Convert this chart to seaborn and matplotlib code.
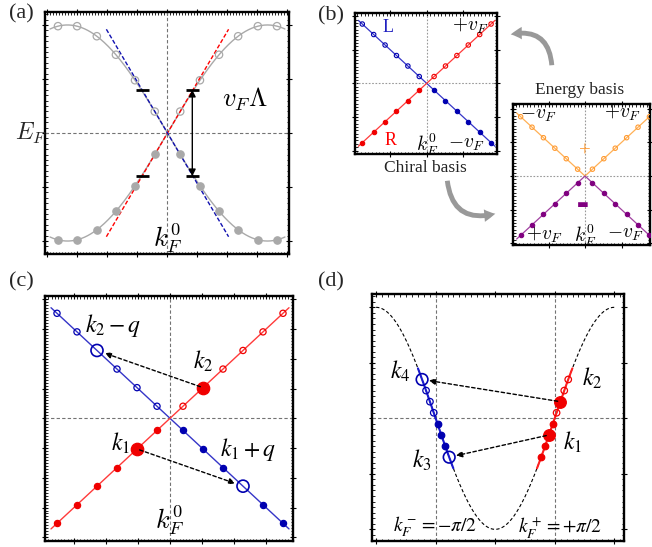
import numpy as np
import matplotlib
matplotlib.use("Agg")
import matplotlib.pyplot as plt
import seaborn as sns
from matplotlib.patches import FancyArrowPatch
from matplotlib.ticker import MultipleLocator

# ---- data ----
# (a) lattice momenta (rad) on one side of k_F^0, band E = +-sin(k)
K_A = [0.20, 0.51, 0.81, 1.11, 1.42, 1.72]
K_A_CURVE = 1.845          # extent of the gray band
K_A_LIN = 0.96             # extent of the linearised dashed lines
BAR_K = 0.39               # cutoff bars / double arrow
BAR_E = 0.40

# (b), (c) momenta (units of level spacing) on one side of k_F^0
K_LIN = [0.65, 1.65, 2.65, 3.65, 4.65, 5.65]
K_LINE = 6.0

# (c) scattered particles
C_K1, C_K2 = -1.65, 1.65
C_Q = 5.3

# (d) energy levels around each Fermi point, band E = -cos(k)
D_OPEN_BLUE = [0.25, 0.15, 0.05]
D_FILL_BLUE = [-0.05, -0.15, -0.25]
D_BIG_BLUE = [0.35, -0.35]          # k4, k3
D_OPEN_RED = [0.35, 0.25, 0.05]
D_FILL_RED = [-0.05, -0.25, -0.35]
D_BIG_RED = [0.15, -0.15]           # k2, k1
D_SEG = 0.45

W, H = 652, 547
GRAY = "#a9a9a9"
RED_L, RED_M = "#ff3a3a", "#f00000"
BLUE_L, BLUE_M = "#3535c8", "#0000b0"
ORANGE_L, ORANGE_M = "#ffb055", "#ff9a30"
PURPLE_L, PURPLE_M = "#a040a0", "#800080"

sns.set_theme(style="white")
plt.rcParams["font.family"] = ["Liberation Serif", "DejaVu Serif"]
plt.rcParams["mathtext.fontset"] = "cm"

fig = plt.figure(figsize=(W / 100, H / 100), dpi=100)


def box(x0, y0, x1, y1):
    return fig.add_axes([x0 / W, 1 - y1 / H, (x1 - x0) / W, (y1 - y0) / H])


def frame(ax, xmaj, ymaj):
    ax.xaxis.set_major_locator(MultipleLocator(xmaj))
    ax.xaxis.set_minor_locator(MultipleLocator(xmaj / 10))
    ax.yaxis.set_major_locator(MultipleLocator(ymaj))
    ax.yaxis.set_minor_locator(MultipleLocator(ymaj / 10))
    ax.tick_params(which="both", direction="in", top=True, right=True,
                   bottom=True, left=True, labelbottom=False, labelleft=False,
                   color="black")
    ax.tick_params(which="major", direction="inout", length=5, width=0.8)
    ax.tick_params(which="minor", length=1.8, width=0.6)
    for s in ax.spines.values():
        s.set_linewidth(1.7)
        s.set_color("black")


def guides(ax, xs, y=0, color="0.45", ls=(0, (3, 2))):
    for x in xs:
        ax.axvline(x, color=color, ls=ls, lw=0.8, zorder=1)
    ax.axhline(y, color=color, ls=ls, lw=0.8, zorder=1)


def line(ax, x, y, color, lw=1.0, **kw):
    sns.lineplot(x=np.asarray(x), y=np.asarray(y), ax=ax, color=color, lw=lw,
                 sort=False, estimator=None, zorder=2, **kw)


def pts(ax, x, y, color, hollow, s, lw=0.9):
    face = "none" if hollow else color
    sns.scatterplot(x=np.asarray(x, float), y=np.asarray(y, float), ax=ax,
                    color=color, facecolor=face, edgecolor=color, s=s,
                    linewidth=lw, zorder=3)


def hop(ax, src, dst, shrink=4):
    ax.annotate("", xy=dst, xytext=src,
                arrowprops=dict(arrowstyle="-|>", color="black", lw=1.0,
                                ls=(0, (2.5, 1.8)), mutation_scale=9,
                                shrinkA=2, shrinkB=shrink), zorder=4)


def mtext(ax, x, y, s, size, color="black", font="cm", **kw):
    ax.text(x, y, s, fontsize=size, color=color, ha="center", va="center",
            math_fontfamily=font, **kw)


# ---------------- (a) ----------------
ax = box(45, 12, 289, 254)
frame(ax, 0.15 * np.pi, 0.5)
ax.set_xlim(-1.924, 1.909)
ax.set_ylim(-1.12, 1.12)
guides(ax, [0])
kk = np.linspace(-K_A_CURVE, K_A_CURVE, 300)
line(ax, kk, np.sin(kk), GRAY)
line(ax, kk, -np.sin(kk), GRAY)
ka = np.array(K_A)
pts(ax, ka, np.sin(ka), GRAY, True, 28)
pts(ax, -ka, -np.sin(-ka), GRAY, True, 28)
pts(ax, -ka, np.sin(-ka), GRAY, False, 28)
pts(ax, ka, -np.sin(ka), GRAY, False, 28)
ax.plot([-K_A_LIN, K_A_LIN], [-K_A_LIN, K_A_LIN], color="red", lw=1.0,
        ls=(0, (3, 1.5)), zorder=2.5)
ax.plot([-K_A_LIN, K_A_LIN], [K_A_LIN, -K_A_LIN], color="#1010b0", lw=1.0,
        ls=(0, (3, 1.5)), zorder=2.5)
for sx in (-1, 1):
    for sy in (-1, 1):
        ax.plot([sx * BAR_K - 0.1, sx * BAR_K + 0.1], [sy * BAR_E] * 2,
                color="black", lw=2, zorder=4, solid_capstyle="butt")
ax.annotate("", xy=(BAR_K, -BAR_E), xytext=(BAR_K, BAR_E),
            arrowprops=dict(arrowstyle="<|-|>", color="black", lw=1.0,
                            mutation_scale=10, shrinkA=0, shrinkB=0))
mtext(ax, 1.22, 0.31, r"$v_F\Lambda$", 19)
mtext(ax, 0.0, -0.97, r"$k_F^0$", 19)
ax.text(-0.057, 0.5, r"$E_F$", transform=ax.transAxes, fontsize=17,
        ha="center", va="center")

# ---------------- (b) chiral ----------------
ax = box(355, 13, 497, 154)
frame(ax, 3.2, 3.2)
ax.set_xlim(-6.29, 6.17)
ax.set_ylim(-6.73, 6.70)
guides(ax, [0], color="0.6", ls=(0, (1.5, 1.5)))
kl = np.array(K_LIN)
line(ax, [-K_LINE, K_LINE], [K_LINE, -K_LINE], BLUE_L, lw=0.9)
line(ax, [-K_LINE, K_LINE], [-K_LINE, K_LINE], RED_L, lw=0.9)
pts(ax, -kl, kl, BLUE_M, True, 10, 0.8)
pts(ax, kl, -kl, BLUE_M, False, 10, 0.8)
pts(ax, -kl, -kl, RED_M, False, 10, 0.8)
pts(ax, kl, kl, RED_M, True, 10, 0.8)
ax.text(-3.4, 5.3, "L", color="#2020c0", fontsize=13, ha="center", va="center")
ax.text(-3.2, -5.4, "R", color="red", fontsize=13, ha="center", va="center")
mtext(ax, 3.8, 5.5, r"$+v_F$", 14)
mtext(ax, 3.45, -5.85, r"$-v_F$", 14)
mtext(ax, 0.05, -5.85, r"$k_F^0$", 14)
fig.text(425 / W, 1 - 168 / H, "Chiral basis", fontsize=12.5,
         ha="center", va="center", color="#222222")

# ---------------- (b) energy ----------------
ax = box(513, 104, 650, 245)
frame(ax, 3.2, 3.2)
ax.set_xlim(-6.32, 5.70)
ax.set_ylim(-6.57, 6.86)
guides(ax, [0], color="0.6", ls=(0, (1.5, 1.5)))
line(ax, [-K_LINE, 0, K_LINE], [K_LINE, 0, K_LINE], ORANGE_L, lw=0.9)
line(ax, [-K_LINE, 0, K_LINE], [-K_LINE, 0, -K_LINE], PURPLE_L, lw=0.9)
pts(ax, np.r_[-kl, kl], np.r_[kl, kl], ORANGE_M, True, 10, 0.8)
pts(ax, np.r_[-kl, kl], np.r_[-kl, -kl], PURPLE_M, False, 10, 0.8)
mtext(ax, -4.1, 5.8, r"$-v_F$", 14)
mtext(ax, 3.3, 6.0, r"$+v_F$", 14)
mtext(ax, -3.6, -5.6, r"$+v_F$", 14)
mtext(ax, 0.0, -5.75, r"$k_F^0$", 14)
mtext(ax, 3.5, -5.6, r"$-v_F$", 14)
ax.text(0.0, 2.3, "+", color=ORANGE_M, fontsize=15, ha="center", va="center")
ax.text(-0.18, -2.75, "\u25ac", color=PURPLE_M, fontsize=9, ha="center",
        va="center", family="DejaVu Sans")
fig.text(580 / W, 1 - 90 / H, "Energy basis", fontsize=12.5,
         ha="center", va="center", color="#222222")

for a, b in [((552, 68), (508, 35)), ((447, 178), (498, 213))]:
    arr = FancyArrowPatch((a[0] / W, 1 - a[1] / H), (b[0] / W, 1 - b[1] / H),
                          transform=fig.transFigure,
                          connectionstyle="arc3,rad=0.6",
                          arrowstyle="simple,head_width=9,head_length=8,tail_width=3.5",
                          color="#8e8e8e", lw=0, alpha=0.9)
    fig.patches.append(arr)

# ---------------- (c) ----------------
ax = box(45, 296, 293, 541)
frame(ax, 1.6, 1.6)
ax.set_xlim(-6.25, 6.15)
ax.set_ylim(-6.6, 6.58)
guides(ax, [0])
line(ax, [-5.95, 5.95], [5.95, -5.95], BLUE_L)
line(ax, [-5.95, 5.95], [-5.95, 5.95], RED_L)
c_k1q, c_k2q = C_K1 + C_Q, C_K2 - C_Q
blue_open = [k for k in -kl if not np.isclose(k, c_k2q)]
blue_fill = [k for k in kl if not np.isclose(k, c_k1q)]
red_fill = [k for k in -kl if not np.isclose(k, C_K1)]
red_open = [k for k in kl if not np.isclose(k, C_K2)]
pts(ax, blue_open, -np.array(blue_open), BLUE_M, True, 20)
pts(ax, blue_fill, -np.array(blue_fill), BLUE_M, False, 20)
pts(ax, red_fill, red_fill, RED_M, False, 20)
pts(ax, red_open, red_open, RED_M, True, 20)
pts(ax, [c_k2q, c_k1q], [-c_k2q, -c_k1q], BLUE_M, True, 75, 1.2)
pts(ax, [C_K1, C_K2], [C_K1, C_K2], RED_M, False, 80)
hop(ax, (C_K2, C_K2), (c_k2q, -c_k2q), 6)
hop(ax, (C_K1, C_K1), (c_k1q, -c_k1q), 6)
mtext(ax, -2.85, 5.0, r"$k_2-q$", 17, font="stix")
mtext(ax, 1.65, 3.05, r"$k_2$", 17, font="stix")
mtext(ax, -2.45, -1.33, r"$k_1$", 17, font="stix")
mtext(ax, 3.9, -1.7, r"$k_1+q$", 17, font="stix")
mtext(ax, 0.0, -5.45, r"$k_F^0$", 19)

# ---------------- (d) ----------------
ax = box(372, 294, 624, 541)
frame(ax, np.pi / 2, 0.5)
ax.set_xlim(-3.25, 3.40)
ax.set_ylim(-1.105, 1.12)
guides(ax, [-np.pi / 2, np.pi / 2])
kd = np.linspace(-np.pi, np.pi, 400)
ax.plot(kd, -np.cos(kd), color="black", lw=0.8, ls=(0, (3, 2)), zorder=2)


def k_left(e):
    return -np.arccos(-np.asarray(e, float))


def k_right(e):
    return np.arccos(-np.asarray(e, float))


es = np.linspace(-D_SEG, D_SEG, 60)
line(ax, k_left(es), es, "#1a1ad0", lw=1.5)
line(ax, k_right(es), es, "#ff2020", lw=1.5)
pts(ax, k_left(D_OPEN_BLUE), D_OPEN_BLUE, BLUE_M, True, 22)
pts(ax, k_left(D_FILL_BLUE), D_FILL_BLUE, BLUE_M, False, 22)
pts(ax, k_left(D_BIG_BLUE), D_BIG_BLUE, BLUE_M, True, 70, 1.2)
pts(ax, k_right(D_OPEN_RED), D_OPEN_RED, RED_M, True, 22)
pts(ax, k_right(D_FILL_RED), D_FILL_RED, RED_M, False, 22)
pts(ax, k_right(D_BIG_RED), D_BIG_RED, RED_M, False, 70)
for er, eb in zip(D_BIG_RED, D_BIG_BLUE):
    hop(ax, (float(k_right(er)), er), (float(k_left(eb)), eb), 5)
mtext(ax, -2.51, 0.42, r"$k_4$", 17, font="stix")
mtext(ax, 2.55, 0.36, r"$k_2$", 17, font="stix")
mtext(ax, 2.03, -0.22, r"$k_1$", 17, font="stix")
mtext(ax, -1.93, -0.375, r"$k_3$", 17, font="stix")
mtext(ax, -1.59, -0.98, r"$k_F^-=-\pi/2$", 14, font="stix")
mtext(ax, 1.71, -0.98, r"$k_F^+=+\pi/2$", 14, font="stix")

# panel labels
for lab, (x, y) in {"(a)": (21, 14), "(b)": (331, 16),
                    "(c)": (21, 282), "(d)": (331, 282)}.items():
    fig.text(x / W, 1 - y / H, lab, fontsize=16, ha="center", va="center")

fig.savefig("out.png", dpi=100)
